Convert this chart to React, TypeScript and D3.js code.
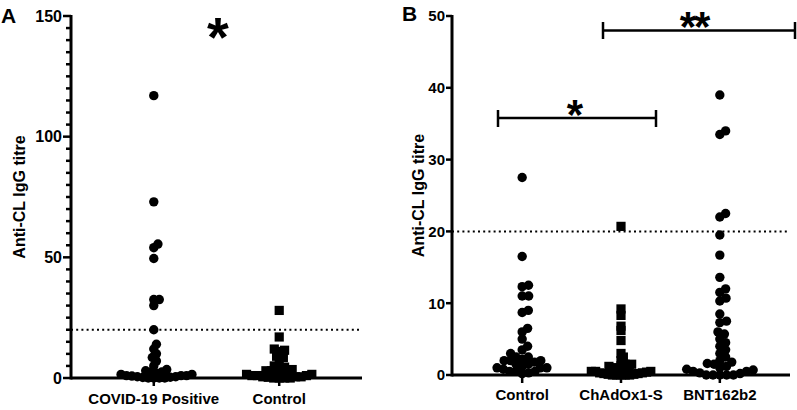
import React from "react";
import * as d3 from "d3";

// ---------- DATA ----------
const catsA = ["COVID-19 Positive", "Control"];
const covidPositive = [117, 73, 55.5, 54, 49.5, 32.5, 32.5, 30, 20, 14, 12, 10, 8.5, 7, 5, 3.5, 3, 2.5, 2.5, 2, 1.5, 1.5, 1, 1, 1, 0.8, 0.5, 0.5, 0.3, 0.2, 0, 0, 0, 0];
const controlA = [28, 17, 12, 11.5, 11, 9, 8.5, 7, 5, 4.5, 4, 3.5, 3, 3, 2.5, 2, 2, 1.5, 1.5, 1, 1, 1, 0.5, 0.5, 0.5, 0.3, 0, 0, 0, 0];
const ticksA = [0, 50, 100, 150];

const catsB = ["Control", "ChAdOx1-S", "BNT162b2"];
const controlB = [27.5, 16.5, 12.5, 12.3, 11, 11, 9, 8.7, 6.5, 6, 5, 4, 3.5, 3, 2.5, 2.5, 2.2, 2, 2, 2, 1.8, 1.5, 1.5, 1.2, 1, 1, 1, 0.8, 0.5, 0.5, 0.5, 0.3, 0.2];
const chadox = [20.7, 9.2, 8.3, 6.8, 6.2, 4.8, 3, 2.5, 2, 1.5, 1.5, 1.3, 1.2, 1, 1, 1, 0.8, 0.7, 0.5, 0.5, 0.5, 0.4, 0.3, 0.3, 0.2, 0.2, 0.1, 0.1, 0, 0, 0, 0, 0];
const bnt = [39, 34, 33.5, 22.5, 22, 19.5, 16.7, 13.6, 12, 11.5, 10.7, 10.3, 8.5, 7.5, 7.3, 6, 5.7, 5, 4.5, 4, 3.5, 3, 2.5, 2, 1.8, 1.6, 1.5, 1.2, 1, 0.8, 0.7, 0.5, 0.5, 0.3, 0.2, 0, 0, 0, 0, 0];
const ticksB = [0, 10, 20, 30, 40, 50];
const threshold = 20;

// ---------- HELPERS ----------
function swarm(vals: number[], y: (v: number) => number, dmin: number) {
  const pts = vals.map((v) => ({ v, py: y(v), dx: 0 })).sort((a, b) => b.py - a.py);
  const placed: { py: number; dx: number }[] = [];
  for (const p of pts) {
    const near = placed.filter((q) => Math.abs(q.py - p.py) < dmin);
    const cands = [0];
    for (const q of near) {
      const h = Math.sqrt(dmin * dmin - (q.py - p.py) ** 2);
      cands.push(q.dx + h, q.dx - h);
    }
    cands.sort((a, b) => Math.abs(a) - Math.abs(b) || b - a);
    let chosen = 0;
    for (const c of cands) {
      if (near.every((q) => (c - q.dx) ** 2 + (p.py - q.py) ** 2 >= dmin * dmin - 0.01)) {
        chosen = c;
        break;
      }
    }
    p.dx = chosen;
    placed.push(p);
  }
  return pts;
}

const FONT = "'Liberation Sans', Arial, sans-serif";

function Marks({ vals, cx, y, shape, dmin }: { vals: number[]; cx: number; y: (v: number) => number; shape: "circle" | "square"; dmin: number }) {
  const pts = swarm(vals, y, dmin);
  return (
    <g>
      {pts.map((p, i) =>
        shape === "circle" ? (
          <circle key={i} cx={cx + p.dx} cy={p.py} r={4.7} fill="#000" />
        ) : (
          <rect key={i} x={cx + p.dx - 4.6} y={p.py - 4.6} width={9.2} height={9.2} fill="#000" />
        )
      )}
    </g>
  );
}

export default function App() {
  // Panel A
  const xA = d3.scalePoint<string>().domain(catsA).range([71, 362]).padding(0.66);
  const yA = d3.scaleLinear().domain([0, 150]).range([378, 16]);
  const minorA = d3.range(0, 151, 5);
  // Panel B
  const xB = d3.scalePoint<string>().domain(catsB).range([452, 790]).padding(0.71);
  const yB = d3.scaleLinear().domain([0, 50]).range([375, 16]);

  const axisStroke = 3;

  return (
    <svg width={797} height={410} style={{ position: "absolute", left: 0, top: 0, background: "#fff" }} fontFamily={FONT}>
      <rect width={797} height={410} fill="#fff" />
      {/* ===== Panel A ===== */}
      <text x={1} y={23} fontSize={21} fontWeight="bold">A</text>
      <text transform={`translate(25,${(yA(0) + yA(150)) / 2}) rotate(-90)`} textAnchor="middle" fontSize={16} fontWeight="bold">Anti-CL IgG titre</text>
      {minorA.map((t) => (
        <line key={t} x1={71 - (ticksA.includes(t) ? 8 : 5)} x2={71} y1={yA(t)} y2={yA(t)} stroke="#000" strokeWidth={2.5} />
      ))}
      {ticksA.map((t) => (
        <text key={t} x={62} y={yA(t)} dy="0.36em" textAnchor="end" fontSize={16} fontWeight="bold">{t}</text>
      ))}
      <line x1={71} x2={71} y1={yA(150) - 1} y2={yA(0) + 1.5} stroke="#000" strokeWidth={axisStroke} />
      <line x1={71} x2={362} y1={yA(0)} y2={yA(0)} stroke="#000" strokeWidth={axisStroke} />
      {catsA.map((c) => (
        <g key={c}>
          <line x1={xA(c)!} x2={xA(c)!} y1={yA(0)} y2={yA(0) + 8} stroke="#000" strokeWidth={2.5} />
          <text x={xA(c)!} y={404} textAnchor="middle" fontSize={15} fontWeight="bold">{c}</text>
        </g>
      ))}
      <line x1={71} x2={362} y1={yA(threshold)} y2={yA(threshold)} stroke="#000" strokeWidth={2} strokeDasharray="2,3.2" />
      <Marks vals={covidPositive} cx={xA(catsA[0])!} y={yA} shape="circle" dmin={5.5} />
      <Marks vals={controlA} cx={xA(catsA[1])!} y={yA} shape="square" dmin={5.5} />
      <text x={218} y={56} textAnchor="middle" fontSize={56} fontWeight="bold">*</text>

      {/* ===== Panel B ===== */}
      <text x={402} y={21} fontSize={21} fontWeight="bold">B</text>
      <text transform={`translate(424,${(yB(0) + yB(50)) / 2}) rotate(-90)`} textAnchor="middle" fontSize={16} fontWeight="bold">Anti-CL IgG titre</text>
      {ticksB.map((t) => (
        <g key={t}>
          <line x1={446} x2={452} y1={yB(t)} y2={yB(t)} stroke="#000" strokeWidth={2.5} />
          <text x={445} y={yB(t)} dy="0.36em" textAnchor="end" fontSize={15} fontWeight="bold">{t}</text>
        </g>
      ))}
      <line x1={452} x2={452} y1={yB(50) - 1} y2={yB(0) + 1.5} stroke="#000" strokeWidth={axisStroke} />
      <line x1={452} x2={790} y1={yB(0)} y2={yB(0)} stroke="#000" strokeWidth={axisStroke} />
      {catsB.map((c) => (
        <g key={c}>
          <line x1={xB(c)!} x2={xB(c)!} y1={yB(0)} y2={yB(0) + 8} stroke="#000" strokeWidth={2.5} />
          <text x={xB(c)!} y={400} textAnchor="middle" fontSize={15} fontWeight="bold">{c}</text>
        </g>
      ))}
      <line x1={452} x2={790} y1={yB(threshold)} y2={yB(threshold)} stroke="#000" strokeWidth={2} strokeDasharray="2,3.2" />
      <Marks vals={controlB} cx={xB(catsB[0])!} y={yB} shape="circle" dmin={6.5} />
      <Marks vals={chadox} cx={xB(catsB[1])!} y={yB} shape="square" dmin={4.3} />
      <Marks vals={bnt} cx={xB(catsB[2])!} y={yB} shape="circle" dmin={6.8} />

      {/* significance brackets */}
      <g stroke="#000" strokeWidth={2.5}>
        <line x1={498} x2={656} y1={118} y2={118} />
        <line x1={498} x2={498} y1={110} y2={127} />
        <line x1={656} x2={656} y1={110} y2={127} />
        <line x1={603} x2={795} y1={30.5} y2={30.5} />
        <line x1={603} x2={603} y1={22} y2={39} />
        <line x1={795} x2={795} y1={22} y2={39} />
      </g>
      <text x={575} y={129} textAnchor="middle" fontSize={42} fontWeight="bold">*</text>
      <text x={694} y={41} textAnchor="middle" fontSize={42} fontWeight="bold" letterSpacing={-2}>**</text>
    </svg>
  );
}
